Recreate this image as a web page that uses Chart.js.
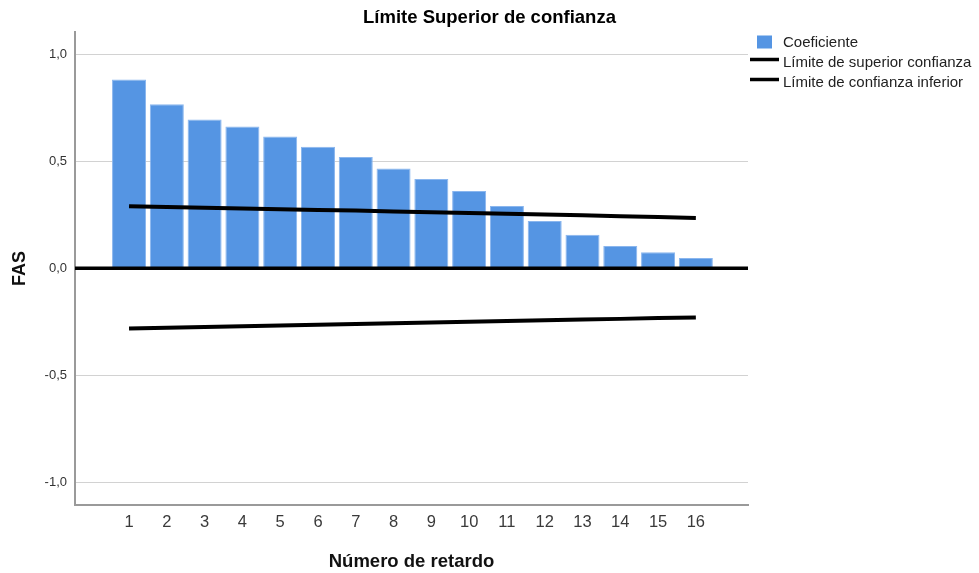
<!DOCTYPE html>
<html lang="es">
<head>
<meta charset="utf-8">
<title>Límite Superior de confianza</title>
<script src="https://cdn.jsdelivr.net/npm/chart.js@4"></script>
<style>
  html, body { margin: 0; padding: 0; background: #ffffff; }
  #wrap { width: 979px; height: 573px; }
</style>
</head>
<body>
<div id="wrap"><canvas id="fas" width="979" height="573"></canvas></div>
<script>
// Autocorrelation coefficients by lag with their confidence limits
const lags = [1, 2, 3, 4, 5, 6, 7, 8, 9, 10, 11, 12, 13, 14, 15, 16];
const coeficiente = [0.882, 0.766, 0.695, 0.662, 0.615, 0.567, 0.520, 0.466,
                     0.417, 0.361, 0.291, 0.220, 0.156, 0.104, 0.075, 0.048];
const limiteSuperior = [0.290, 0.286, 0.283, 0.279, 0.276, 0.272, 0.269, 0.265,
                        0.261, 0.258, 0.254, 0.251, 0.247, 0.243, 0.239, 0.235];
const limiteInferior = [-0.282, -0.279, -0.275, -0.272, -0.268, -0.265, -0.261, -0.258,
                        -0.254, -0.251, -0.247, -0.244, -0.240, -0.237, -0.233, -0.230];
const yTicks = [-1.0, -0.5, 0.0, 0.5, 1.0];

const FONT = "'Liberation Sans', Arial, Helvetica, sans-serif";
const BAR_COLOR = '#5595e3';

const toPoints = (ys) => lags.map((x, i) => ({ x: x, y: ys[i] }));

// Thick black reference line at zero, drawn over the bars
const zeroLine = {
  id: 'zeroLine',
  afterDatasetsDraw(chart) {
    const { ctx, chartArea, scales } = chart;
    const y = scales.y.getPixelForValue(0);
    ctx.save();
    ctx.strokeStyle = '#000000';
    ctx.lineWidth = 3.5;
    ctx.beginPath();
    ctx.moveTo(chartArea.left, y);
    ctx.lineTo(chartArea.right, y);
    ctx.stroke();
    ctx.restore();
  }
};

// Legend block to the right of the plot
const sideLegend = {
  id: 'sideLegend',
  afterDraw(chart) {
    const { ctx, chartArea } = chart;
    const x0 = chartArea.right;
    const rows = [42, 61.5, 81.5];
    ctx.save();
    ctx.font = '15px ' + FONT;
    ctx.textBaseline = 'middle';
    ctx.textAlign = 'left';
    chart.data.datasets.forEach((ds, i) => {
      const cy = rows[i];
      if (ds.type === 'bar') {
        ctx.fillStyle = ds.backgroundColor;
        ctx.fillRect(x0 + 9, cy - 6.5, 15, 13);
      } else {
        ctx.strokeStyle = ds.borderColor;
        ctx.lineWidth = 3.5;
        ctx.beginPath();
        ctx.moveTo(x0 + 2, cy - 2);
        ctx.lineTo(x0 + 31, cy - 2);
        ctx.stroke();
      }
      ctx.fillStyle = '#222222';
      ctx.fillText(ds.label, x0 + 35, cy + 1);
    });
    ctx.restore();
  }
};

new Chart(document.getElementById('fas'), {
  data: {
    datasets: [
      {
        type: 'bar',
        label: 'Coeficiente',
        data: toPoints(coeficiente),
        backgroundColor: BAR_COLOR,
        borderColor: '#8ab6ee',
        borderWidth: 1,
        barPercentage: 0.9,
        categoryPercentage: 1.0,
        order: 2
      },
      {
        type: 'line',
        label: 'Límite de superior confianza',
        data: toPoints(limiteSuperior),
        borderColor: '#000000',
        borderWidth: 4,
        pointRadius: 0,
        fill: false,
        tension: 0,
        order: 1
      },
      {
        type: 'line',
        label: 'Límite de confianza inferior',
        data: toPoints(limiteInferior),
        borderColor: '#000000',
        borderWidth: 4,
        pointRadius: 0,
        fill: false,
        tension: 0,
        order: 1
      }
    ]
  },
  options: {
    responsive: false,
    animation: false,
    devicePixelRatio: 1,
    layout: { padding: 0 },
    plugins: {
      legend: { display: false },
      tooltip: { enabled: false },
      title: {
        display: true,
        text: 'Límite Superior de confianza',
        color: '#000000',
        font: { family: FONT, size: 18.5, weight: 'bold' },
        padding: { top: 7, bottom: 3 }
      }
    },
    scales: {
      x: {
        type: 'linear',
        offset: false,
        min: -0.43,
        max: 17.38,
        afterBuildTicks(scale) {
          scale.ticks = lags.map(v => ({ value: v }));
        },
        afterFit(scale) { scale.height = 68; },
        grid: { display: false, drawTicks: false, tickLength: 0, offset: false },
        border: { display: true, color: '#9a9a9a', width: 2 },
        ticks: {
          autoSkip: false,
          maxRotation: 0,
          padding: 8,
          color: '#3a3a3a',
          font: { family: FONT, size: 16.5 },
          callback: (v) => String(v)
        },
        title: {
          display: true,
          text: 'Número de retardo',
          color: '#111111',
          font: { family: FONT, size: 18.5, weight: 'bold' },
          padding: { top: 16, bottom: 0 }
        }
      },
      y: {
        type: 'linear',
        min: -1.107,
        max: 1.103,
        afterBuildTicks(scale) {
          scale.ticks = yTicks.map(v => ({ value: v }));
        },
        afterFit(scale) { scale.width = 75; },
        grid: {
          color: '#d2d2d2',
          lineWidth: 1,
          drawTicks: false,
          tickLength: 0
        },
        border: { display: true, color: '#9a9a9a', width: 2 },
        ticks: {
          padding: 8,
          color: '#333333',
          font: { family: FONT, size: 13 },
          callback: (v) => v.toFixed(1).replace('.', ',')
        },
        title: {
          display: true,
          text: 'FAS',
          color: '#111111',
          font: { family: FONT, size: 18, weight: 'bold' },
          padding: { top: 9.2, bottom: 4 }
        }
      },
      // Empty right-hand band that reserves room for the legend
      legendBand: {
        type: 'linear',
        position: 'right',
        display: true,
        min: 0,
        max: 1,
        afterFit(scale) { scale.width = 231; },
        grid: { display: false, drawTicks: false, tickLength: 0 },
        border: { display: false },
        ticks: { display: false }
      }
    }
  },
  plugins: [zeroLine, sideLegend]
});
</script>
</body>
</html>
